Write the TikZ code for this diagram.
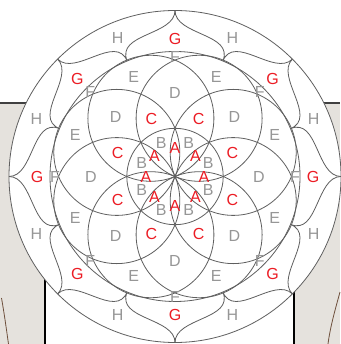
\documentclass[tikz,border=0pt]{standalone}
\usepackage{fontspec}
\setmainfont{Liberation Sans}
\definecolor{lred}{RGB}{236,28,36}
\definecolor{lgray}{RGB}{150,150,150}
\definecolor{lncol}{RGB}{95,95,95}
\definecolor{stone}{RGB}{229,226,221}
\definecolor{brn}{RGB}{110,80,60}
\begin{document}
\begin{tikzpicture}[x=1pt,y=-1pt,
  lab/.style={font=\fontsize{16}{16}\selectfont, inner sep=0pt, anchor=center},
  rl/.style={lab, text=lred}, gl/.style={lab, text=lgray},
  ln/.style={draw=lncol, line width=0.8pt}]
\useasboundingbox (0,0) rectangle (340,344);
% background
\fill[stone] (0,103) rectangle (340,344);
\fill[white] (45,103) rectangle (294,344);
\draw[black, line width=1.2pt] (45,103) -- (45,344);
\draw[black, line width=1.2pt] (294,103) -- (294,344);
\draw[black!75, line width=1.6pt] (0,103) -- (340,103);
\draw[brn, line width=0.8pt] (1.5,298) .. controls (4.5,315) and (6.5,330) .. (8.5,344);
\draw[brn, line width=0.8pt] (340,292) .. controls (335,310) and (330,328) .. (328,344);
\begin{scope}[shift={(175,176.5)}]
\fill[white] (0,0) circle (166);
\draw[ln] (0,0) circle (166);
\draw[ln] (0,0) circle (125);
\draw[ln] (0,0) circle (48.2);
\foreach \k in {0,...,7} {
  \draw[ln] (22.5+45*\k:63) circle (63);
  \draw[ln] (45*\k:166) .. controls (45*\k:141) and (22.5+45*\k:155) .. (22.5+45*\k:125)
     .. controls (22.5+45*\k:155) and (45+45*\k:141) .. (45+45*\k:166);
}
\foreach \k in {0,...,7} {
  \node[rl] (A\k) at (45*\k:29) {A};
  \node[gl] (B\k) at (22.5+45*\k:36) {B};
  \node[rl] (C\k) at (22.5+45*\k:62) {C};
  \node[gl] (D\k) at (45*\k:84) {D};
  \node[gl] (E\k) at (22.5+45*\k:108) {E};
  \node[gl] (F\k) at (45*\k:120) {F};
  \node[rl] (G\k) at (45*\k:138) {G};
  \node[gl] (H\k) at (22.5+45*\k:150) {H};
}
\end{scope}
\end{tikzpicture}
\end{document}
